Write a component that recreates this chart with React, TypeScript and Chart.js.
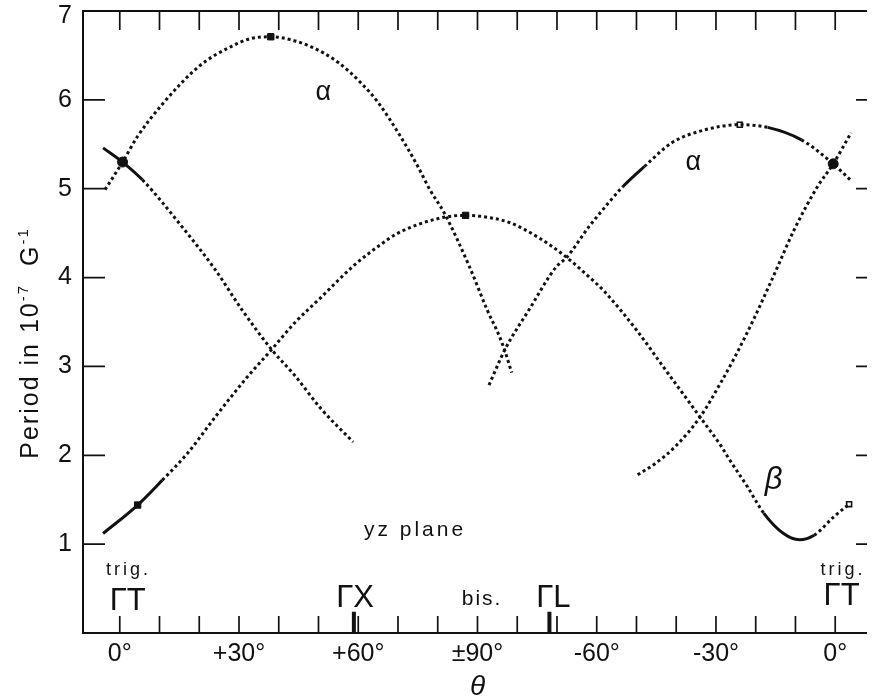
import React, { useEffect, useRef } from "react";
import { Chart, registerables } from "chart.js";

Chart.register(...registerables);

// Angle θ (degrees, running continuously from trigonal through bisectrix and back) vs period (10^-7 G^-1)
const alphaLeft: [number, number][] = [
  [-3.7, 4.99], [0.7, 5.3], [4.5, 5.59], [10.7, 5.95], [20, 6.38], [28, 6.6], [33, 6.69],
  [38, 6.71], [40.7, 6.7], [48, 6.6], [55, 6.42], [60.7, 6.19], [65, 5.97], [70.6, 5.59],
  [75, 5.25], [78, 4.99], [81.6, 4.73], [88, 4.12], [92.4, 3.64], [95.6, 3.33], [97, 3.16], [98.6, 2.93],
];

const fallingBranch: [number, number][] = [
  [-4.2, 5.46], [0.7, 5.3], [5.7, 5.1], [15.7, 4.57], [24, 4.09], [30.7, 3.64], [38.2, 3.19],
  [44, 2.9], [50.7, 2.52], [58.7, 2.15],
];

const betaBranch: [number, number][] = [
  [-4.2, 1.12], [4.5, 1.44], [10.7, 1.72], [17, 2.02], [24, 2.43], [31.5, 2.85], [38.2, 3.19],
  [44, 3.49], [50.7, 3.78], [59, 4.14], [65.6, 4.37], [70, 4.5], [80.6, 4.67], [87, 4.7],
  [90.7, 4.69], [98, 4.62], [105, 4.46], [111.5, 4.26], [118, 4.01], [122, 3.84], [130, 3.41],
  [137, 2.98], [146, 2.43], [151.5, 2.09], [153, 1.98], [158, 1.64], [162, 1.35], [167, 1.12],
  [171, 1.05], [174.7, 1.1], [179.7, 1.31], [183.5, 1.45],
];

const alphaRight: [number, number][] = [
  [92.9, 2.79], [96.9, 3.19], [103, 3.64], [109.8, 4.12], [112.3, 4.22], [118, 4.57],
  [119.8, 4.67], [126.5, 5.02], [132, 5.25], [139, 5.52], [147, 5.66], [156, 5.72],
  [163, 5.69], [171.5, 5.55], [179.5, 5.28], [184, 5.09],
];

const risingBranch: [number, number][] = [
  [130.3, 1.78], [134.8, 1.91], [139.8, 2.1], [146, 2.43], [151.5, 2.84], [154.8, 3.11],
  [159.8, 3.56], [164.8, 4.05], [169.7, 4.54], [175.5, 5.02], [179.5, 5.28], [184, 5.63],
];

// Marked symmetry points on the branches
const filledSquares: [number, number][] = [[4.5, 1.44], [38, 6.71], [87, 4.7]];
const openSquares: [number, number][] = [[156, 5.72], [183.5, 1.45]];
const crossingDots: [number, number][] = [[0.7, 5.3], [179.5, 5.28]];

// Axis ticks
const xTickValues = [0, 30, 60, 90, 120, 150, 180];
const xTickLabels = ["0°", "+30°", "+60°", "±90°", "-60°", "-30°", "0°"];
const xMinorTicks = [0, 10, 20, 30, 40, 50, 60, 70, 80, 90, 100, 110, 120, 130, 140, 150, 160, 170, 180];
const yTickValues = [1, 2, 3, 4, 5, 6, 7];

// Crystal directions marked along the θ axis
const directionMarks = [58.9, 108.1];

const SANS = '"Liberation Sans", Arial, sans-serif';
const INK = "#111";

type Note = { text: string; deg: number; p: number; font: string; spacing?: number };
const notes: Note[] = [
  { text: "α", deg: 51.2, p: 6.08, font: `27px ${SANS}` },
  { text: "α", deg: 144.3, p: 5.3, font: `27px ${SANS}` },
  { text: "β", deg: 164.5, p: 1.72, font: `italic 31px ${SANS}` },
  { text: "yz plane", deg: 73.9, p: 1.16, font: `21px ${SANS}`, spacing: 3 },
  { text: "trig.", deg: 1.8, p: 0.71, font: `18px ${SANS}`, spacing: 3 },
  { text: "ΓT", deg: 2, p: 0.36, font: `31px ${SANS}` },
  { text: "trig.", deg: 181.6, p: 0.71, font: `18px ${SANS}`, spacing: 3 },
  { text: "ΓT", deg: 181.6, p: 0.41, font: `31px ${SANS}` },
  { text: "ΓX", deg: 59.2, p: 0.39, font: `31px ${SANS}` },
  { text: "bis.", deg: 90.9, p: 0.38, font: `21px ${SANS}`, spacing: 2 },
  { text: "ΓL", deg: 109.1, p: 0.39, font: `31px ${SANS}` },
];

const toPoints = (pairs: [number, number][]) => pairs.map(([x, y]) => ({ x, y }));

const DOT = [3, 3];
const dottedExcept = (spans: [number, number][]) => ({
  borderDash: (ctx: any) => {
    const a = ctx.p0.parsed.x;
    const b = ctx.p1.parsed.x;
    return spans.some(([s, e]) => a >= s && b <= e) ? [] : DOT;
  },
});

const curve = (data: [number, number][], solid: [number, number][]) => ({
  type: "line" as const,
  data: toPoints(data),
  borderColor: INK,
  borderWidth: 3,
  borderDash: DOT,
  borderCapStyle: "butt" as const,
  pointRadius: 0,
  cubicInterpolationMode: "monotone" as const,
  fill: false,
  segment: dottedExcept(solid),
});

function drawText(ctx: CanvasRenderingContext2D, text: string, x: number, y: number, font: string,
  align: CanvasTextAlign = "center", spacing = 0) {
  ctx.font = font;
  (ctx as any).letterSpacing = `${spacing}px`;
  ctx.textAlign = align;
  ctx.textBaseline = "middle";
  ctx.fillText(text, x + (align === "center" ? spacing / 2 : 0), y);
  (ctx as any).letterSpacing = "0px";
}

const framePlugin = {
  id: "frameAndLabels",
  afterDraw(chart: any) {
    const { ctx, chartArea: a, scales } = chart;
    const x = scales.x;
    const y = scales.y;
    ctx.save();
    ctx.strokeStyle = INK;
    ctx.fillStyle = INK;

    // frame (left, top, bottom)
    ctx.lineWidth = 2;
    ctx.beginPath();
    ctx.moveTo(a.right, a.top);
    ctx.lineTo(a.left, a.top);
    ctx.lineTo(a.left, a.bottom);
    ctx.lineTo(a.right, a.bottom);
    ctx.stroke();

    // inward ticks
    ctx.lineWidth = 1.7;
    ctx.beginPath();
    for (const v of xMinorTicks) {
      const px = x.getPixelForValue(v);
      ctx.moveTo(px, a.bottom);
      ctx.lineTo(px, a.bottom - 17);
      ctx.moveTo(px, a.top);
      ctx.lineTo(px, a.top + 19);
    }
    for (const v of yTickValues) {
      if (v >= 7) continue;
      const py = y.getPixelForValue(v);
      ctx.moveTo(a.left, py);
      ctx.lineTo(a.left + 22, py);
      ctx.moveTo(a.right - 11, py);
      ctx.lineTo(a.right, py);
    }
    ctx.stroke();

    // crystal direction bars
    ctx.lineWidth = 4;
    ctx.beginPath();
    for (const d of directionMarks) {
      const px = x.getPixelForValue(d);
      ctx.moveTo(px, a.bottom);
      ctx.lineTo(px, y.getPixelForValue(0.24));
    }
    ctx.stroke();

    // tick labels
    xTickValues.forEach((v, i) => {
      drawText(ctx, xTickLabels[i], x.getPixelForValue(v), a.bottom + 21, `25px ${SANS}`);
    });
    for (const v of yTickValues) {
      const py = Math.max(y.getPixelForValue(v), a.top + 5);
      drawText(ctx, String(v), a.left - 11, py, `25px ${SANS}`, "right");
    }

    // axis titles
    drawText(ctx, "θ", x.getPixelForValue(90), a.bottom + 54, `italic 28px ${SANS}`);

    ctx.save();
    ctx.translate(38, 343);
    ctx.rotate(-Math.PI / 2);
    ctx.textAlign = "left";
    ctx.textBaseline = "alphabetic";
    (ctx as any).letterSpacing = "2px";
    const parts: [string, number, number][] = [
      ["Period in 10", 25, 0],
      ["-7", 15, -10],
      ["  G", 25, 0],
      ["-1", 15, -10],
    ];
    let total = 0;
    for (const [t, s] of parts) {
      ctx.font = `${s}px ${SANS}`;
      total += ctx.measureText(t).width;
    }
    let cx = -total / 2;
    for (const [t, s, dy] of parts) {
      ctx.font = `${s}px ${SANS}`;
      ctx.fillText(t, cx, dy);
      cx += ctx.measureText(t).width;
    }
    (ctx as any).letterSpacing = "0px";
    ctx.restore();

    // in-plot annotations
    for (const n of notes) {
      drawText(ctx, n.text, x.getPixelForValue(n.deg), y.getPixelForValue(n.p), n.font, "center", n.spacing ?? 0);
    }
    ctx.restore();
  },
};

export default function App() {
  const canvasRef = useRef<HTMLCanvasElement | null>(null);

  useEffect(() => {
    const canvas = canvasRef.current;
    if (!canvas) return;
    const chart = new Chart(canvas, {
      type: "line",
      data: {
        datasets: [
          curve(alphaLeft, [[4, 9], [26, 31], [58, 62]]),
          curve(fallingBranch, [[-4.3, 5.8]]),
          curve(betaBranch, [[-4.3, 10.8], [160, 176]]),
          curve(alphaRight, [[122, 133], [160, 177]]),
          curve(risingBranch, []),
          {
            type: "scatter" as const,
            data: toPoints(filledSquares),
            pointStyle: "rect",
            pointRadius: 4.5,
            backgroundColor: INK,
            borderColor: INK,
            borderWidth: 1,
          },
          {
            type: "scatter" as const,
            data: toPoints(openSquares),
            pointStyle: "rect",
            pointRadius: 3.5,
            backgroundColor: "#fff",
            borderColor: INK,
            borderWidth: 1.6,
          },
          {
            type: "scatter" as const,
            data: toPoints(crossingDots),
            pointStyle: "circle",
            pointRadius: 5,
            backgroundColor: INK,
            borderColor: INK,
            borderWidth: 1,
          },
        ] as any,
      },
      options: {
        responsive: false,
        animation: false,
        devicePixelRatio: 1,
        events: [],
        layout: { padding: { left: 83, right: 0, top: 11, bottom: 65 } },
        plugins: { legend: { display: false }, tooltip: { enabled: false } },
        scales: {
          x: { type: "linear", min: -9.25, max: 188, display: false },
          y: { type: "linear", min: 0, max: 7, display: false },
        },
      },
      plugins: [framePlugin],
    });
    return () => chart.destroy();
  }, []);

  return (
    <div style={{ position: "fixed", left: 0, top: 0, width: 873, height: 698, background: "#fff" }}>
      <canvas ref={canvasRef} width={873} height={698} style={{ display: "block" }} />
    </div>
  );
}
